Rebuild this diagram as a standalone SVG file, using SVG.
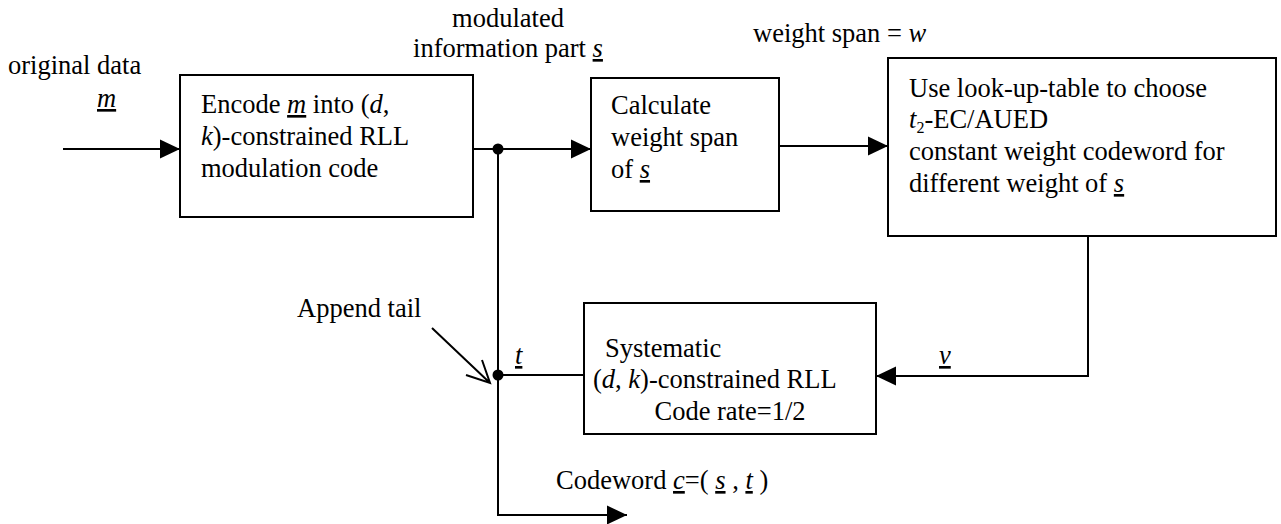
<svg xmlns="http://www.w3.org/2000/svg" width="1281" height="524" viewBox="0 0 1281 524">
<style>
text{font-family:"Liberation Serif","Times New Roman",serif;font-size:26.5px;fill:#000}
.i{font-style:italic}
.u{text-decoration:underline}
.box{fill:#fff;stroke:#000;stroke-width:2}
.ln{fill:none;stroke:#000;stroke-width:2}
</style>
<defs>
<marker id="ah" viewBox="0 0 20 20" refX="20" refY="10" markerWidth="20" markerHeight="20" markerUnits="userSpaceOnUse" orient="auto">
<path d="M0,0.5 L20,10 L0,19.5 Z" fill="#000"/>
</marker>
</defs>
<rect width="1281" height="524" fill="#fff"/>

<g id="labels">
<text x="8" y="74">original data</text>
<text x="97" y="107"><tspan class="i u">m</tspan></text>
<text x="508" y="27" text-anchor="middle">modulated</text>
<text x="508" y="57" text-anchor="middle">information part <tspan class="i u">s</tspan></text>
<text x="753" y="42">weight span = <tspan class="i">w</tspan></text>
<text x="297" y="317">Append tail</text>
<text x="515" y="364"><tspan class="i u">t</tspan></text>
<text x="939" y="364"><tspan class="i u">v</tspan></text>
<text x="556" y="489">Codeword <tspan class="i u">c</tspan>=( <tspan class="i u">s</tspan> , <tspan class="i u">t</tspan> )</text>
</g>

<g id="node-encode">
<rect class="box" x="180" y="75" width="293" height="142"/>
<text x="201" y="113">Encode <tspan class="i u">m</tspan> into (<tspan class="i">d</tspan>,</text>
<text x="201" y="145"><tspan class="i">k</tspan>)-constrained RLL</text>
<text x="201" y="177">modulation code</text>
</g>

<g id="node-weight">
<rect class="box" x="591" y="78" width="188" height="133"/>
<text x="611" y="114">Calculate</text>
<text x="611" y="146">weight span</text>
<text x="611" y="178">of <tspan class="i u">s</tspan></text>
</g>

<g id="node-lut">
<rect class="box" x="888" y="58" width="388" height="178"/>
<text x="909" y="97">Use look-up-table to choose</text>
<text x="909" y="128"><tspan class="i">t</tspan><tspan font-size="16" dy="5">2</tspan><tspan dy="-5">-EC/AUED</tspan></text>
<text x="909" y="160">constant weight codeword for</text>
<text x="909" y="192">different weight of <tspan class="i u">s</tspan></text>
</g>

<g id="node-systematic">
<rect class="box" x="584" y="303" width="292" height="131"/>
<text x="605" y="357">Systematic</text>
<text x="593" y="388">(<tspan class="i">d</tspan>, <tspan class="i">k</tspan>)-constrained RLL</text>
<text x="730" y="420" text-anchor="middle">Code rate=1/2</text>
</g>

<g id="connectors">
<line class="ln" x1="63" y1="149" x2="180" y2="149" marker-end="url(#ah)"/>
<line class="ln" x1="473" y1="149" x2="591" y2="149" marker-end="url(#ah)"/>
<line class="ln" x1="779" y1="146" x2="888" y2="146" marker-end="url(#ah)"/>
<polyline class="ln" points="1088,236 1088,376 876,376" marker-end="url(#ah)"/>
<line class="ln" x1="584" y1="375" x2="498" y2="375"/>
<polyline class="ln" points="498,149 498,515 627,515" marker-end="url(#ah)"/>
<circle cx="498" cy="149" r="5.5" fill="#000"/>
<circle cx="498" cy="375" r="5.5" fill="#000"/>
<path class="ln" d="M432,328 L490,383 M466,375 L490,383 L482,360"/>
</g>
</svg>
